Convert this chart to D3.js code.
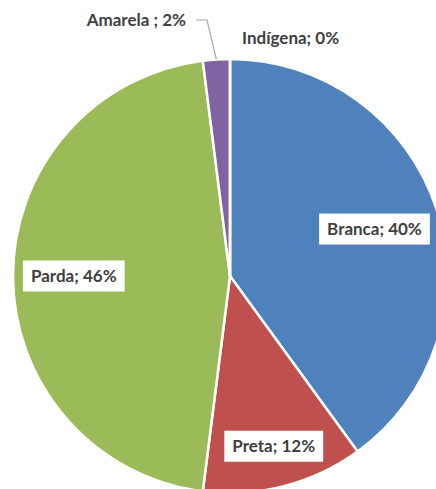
<!DOCTYPE html>
<html>
<head>
<meta charset="utf-8">
<script src="https://cdn.jsdelivr.net/npm/d3@7"></script>
<style>
  html, body { margin: 0; padding: 0; background: #fff; }
  svg { display: block; }
  text { font-family: Lato, "Open Sans", sans-serif; font-weight: bold; fill: #404040; }
</style>
</head>
<body>
<script>
// Population by colour/race (%)
const categories = ["Branca", "Preta", "Parda", "Amarela ", "Indígena"];
const values = [40, 12, 46, 2, 0];
const colors = ["#4F81BD", "#C0504D", "#9BBB59", "#8064A2", "#4BACC6"];

const width = 436, height = 489;
const cx = 230, cy = 276, radius = 217;
const fontSize = 17;

const svg = d3.select("body").append("svg")
  .attr("width", width).attr("height", height);

const pie = d3.pie().sort(null).value(d => d.value);
const arcs = pie(categories.map((c, i) => ({ name: c, value: values[i], color: colors[i] })));
const arc = d3.arc().innerRadius(0).outerRadius(radius);

const g = svg.append("g").attr("transform", `translate(${cx},${cy})`);

g.selectAll("path.slice").data(arcs).join("path")
  .attr("class", "slice")
  .attr("d", arc)
  .attr("fill", d => d.data.color)
  .attr("stroke", "#fff")
  .attr("stroke-width", 2.5)
  .attr("stroke-linejoin", "round");

const fmt = d => `${d.data.name}; ${d3.format(".0f")(d.value)}%`;

// Inside labels on white boxes (radius fraction per slice)
const insideR = { "Branca": 0.70, "Preta": 0.81, "Parda": 0.72 };
arcs.filter(d => insideR[d.data.name] !== undefined).forEach(d => {
  const r = radius * insideR[d.data.name];
  const a = (d.startAngle + d.endAngle) / 2;
  const x = r * Math.sin(a), y = -r * Math.cos(a);
  const lg = g.append("g").attr("transform", `translate(${x},${y})`);
  const t = lg.append("text")
    .attr("text-anchor", "middle")
    .attr("dy", "0.36em")
    .attr("font-size", fontSize)
    .text(fmt(d));
  const bb = t.node().getBBox();
  lg.insert("rect", "text")
    .attr("x", bb.x - 8).attr("y", -15.5)
    .attr("width", bb.width + 16).attr("height", 31)
    .attr("fill", "#fff");
});

// Outside labels for the small slices, Amarela with a leader line
const amarela = arcs[3];
const aMid = (amarela.startAngle + amarela.endAngle) / 2;
const edge = [radius * Math.sin(aMid), -radius * Math.cos(aMid)];
const leader = [edge, [207 - cx, 20 - cy], [196 - cx, 20 - cy]];
g.append("path")
  .attr("d", d3.line()(leader))
  .attr("fill", "none")
  .attr("stroke", "#A6A6A6")
  .attr("stroke-width", 1.2);
g.append("text")
  .attr("x", 186 - cx).attr("y", 26 - cy)
  .attr("text-anchor", "end")
  .attr("font-size", fontSize)
  .text(`${amarela.data.name}; ${amarela.value}%`);

const indigena = arcs[4];
g.append("text")
  .attr("x", 242 - cx).attr("y", 44 - cy)
  .attr("text-anchor", "start")
  .attr("font-size", fontSize)
  .text(fmt(indigena));
</script>
</body>
</html>
